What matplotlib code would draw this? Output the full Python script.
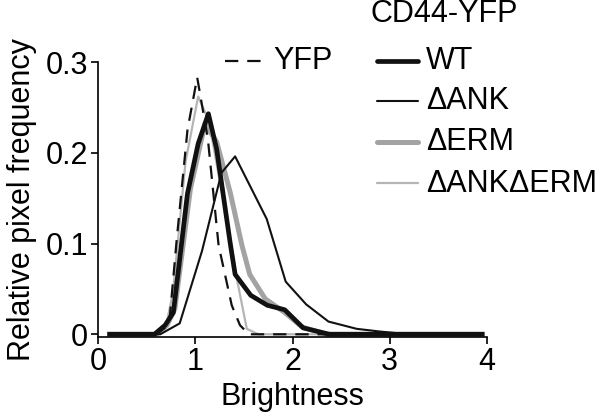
import matplotlib
matplotlib.use("Agg")
import matplotlib.pyplot as plt

plt.rcParams['font.family'] = ['Liberation Sans', 'DejaVu Sans']

# ---- data (brightness, relative pixel frequency) ----
yfp_x = [0.12, 0.60, 0.70, 0.74, 0.81, 0.92, 1.02, 1.13, 1.24, 1.375, 1.46, 1.55, 3.95]
yfp_y = [0.0, 0.0, 0.008, 0.021, 0.105, 0.225, 0.283, 0.215, 0.098, 0.032, 0.010, 0.0, 0.0]

wt_x = [0.12, 0.58, 0.69, 0.775, 0.92, 1.03, 1.135, 1.22, 1.36, 1.41, 1.57, 1.74, 1.92, 2.11, 2.38, 3.95]
wt_y = [0.0, 0.0, 0.010, 0.024, 0.155, 0.210, 0.243, 0.204, 0.100, 0.066, 0.043, 0.032, 0.027, 0.007, 0.0, 0.0]

ank_x = [0.12, 0.64, 0.84, 1.07, 1.27, 1.41, 1.735, 1.93, 2.14, 2.37, 2.66, 2.90, 3.20, 3.95]
ank_y = [0.0, 0.0, 0.012, 0.092, 0.178, 0.196, 0.127, 0.058, 0.033, 0.014, 0.006, 0.003, 0.0, 0.0]

erm_x = [0.12, 0.60, 0.71, 0.79, 0.95, 1.10, 1.22, 1.36, 1.48, 1.56, 1.72, 1.92, 2.10, 2.35, 3.95]
erm_y = [0.0, 0.0, 0.010, 0.028, 0.160, 0.232, 0.212, 0.156, 0.098, 0.066, 0.039, 0.024, 0.008, 0.0, 0.0]

ankerm_x = [0.12, 0.60, 0.70, 0.77, 0.90, 1.03, 1.14, 1.25, 1.36, 1.43, 1.53, 1.65, 3.95]
ankerm_y = [0.0, 0.0, 0.010, 0.045, 0.190, 0.262, 0.235, 0.170, 0.105, 0.060, 0.006, 0.0, 0.0]

x_ticks = [0, 1, 2, 3, 4]
y_ticks = [0, 0.1, 0.2, 0.3]
y_ticklabels = ['0', '0.1', '0.2', '0.3']

legend_title = 'CD44-YFP'
legend_labels = ['WT', '\u0394ANK', '\u0394ERM', '\u0394ANK\u0394ERM']

FS = 22

# ---- figure ----
fig = plt.figure(figsize=(6.0, 4.15), dpi=100)
ax = fig.add_axes([98/600, (415-337)/415, 389/600, (337-62)/415])

c_black = '#111111'
c_erm = '#a3a3a3'
c_ankerm = '#b5b5b5'

ax.plot(erm_x, erm_y, color=c_erm, lw=3.6, clip_on=False, zorder=2)
ax.plot(ankerm_x, ankerm_y, color=c_ankerm, lw=1.6, clip_on=False, zorder=3)
ax.plot(ank_x, ank_y, color=c_black, lw=1.5, clip_on=False, zorder=4)
ax.plot(yfp_x, yfp_y, color=c_black, lw=1.6, dashes=(6, 4), clip_on=False, zorder=5)
ax.plot(wt_x, wt_y, color=c_black, lw=3.4, clip_on=False, zorder=6)

ax.set_xlim(0, 4)
ax.set_ylim(-0.003, 0.3)
ax.set_xticks(x_ticks)
ax.set_yticks(y_ticks)
ax.set_yticklabels(y_ticklabels)
ax.spines['top'].set_visible(False)
ax.spines['right'].set_visible(False)
ax.spines['left'].set_bounds(-0.003, 0.3)
ax.spines['bottom'].set_bounds(0, 4)
for s in ('left', 'bottom'):
    ax.spines[s].set_linewidth(1.2)
ax.tick_params(axis='both', direction='out', length=5, width=1.2, labelsize=FS, pad=2, colors='black')

ax.set_xlabel('Brightness', fontsize=FS, labelpad=4)
ax.set_ylabel('Relative pixel frequency', fontsize=FS, labelpad=6)

# ---- legend drawn by hand ----
def px2ax(px, py):
    return (px - 98) / 389, (337 - py) / 275

tr = ax.transAxes
# YFP
x0, y0 = px2ax(225, 61.5)
x1, _ = px2ax(261, 61.5)
ax.plot([x0, x1], [y0, y0], transform=tr, color=c_black, lw=1.6, dashes=(6, 4), clip_on=False)
tx, ty = px2ax(273, 61)
ax.text(tx, ty, 'YFP', transform=tr, fontsize=FS, va='center', ha='left')

tx, ty = px2ax(371, 14)
ax.text(tx, ty, legend_title, transform=tr, fontsize=FS, va='center', ha='left')

styles = [(c_black, 3.4), (c_black, 1.5), (c_erm, 3.6), (c_ankerm, 1.6)]
rows = [61, 101, 142.5, 183.5]
for lab, (col, lw), py in zip(legend_labels, styles, rows):
    lx0, ly = px2ax(377, py)
    lx1, _ = px2ax(418, py)
    ax.plot([lx0, lx1], [ly, ly], transform=tr, color=col, lw=lw, clip_on=False,
            solid_capstyle='round')
    tx, ty = px2ax(426, py)
    ax.text(tx, ty, lab, transform=tr, fontsize=FS, va='center', ha='left')

fig.savefig('out.png', dpi=100)
